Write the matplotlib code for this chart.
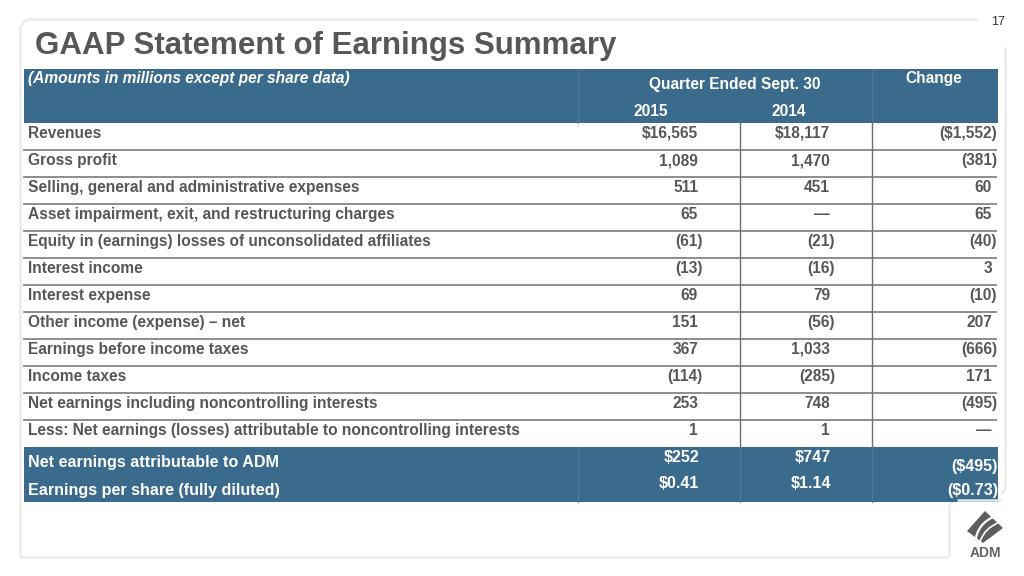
import matplotlib
matplotlib.use("Agg")
import matplotlib.pyplot as plt
from matplotlib.patches import Rectangle, Polygon, Arc, PathPatch
from matplotlib.path import Path

# table content
labels = ["Revenues", "Gross profit", "Selling, general and administrative expenses",
          "Asset impairment, exit, and restructuring charges",
          "Equity in (earnings) losses of unconsolidated affiliates",
          "Interest income", "Interest expense", "Other income (expense) \u2013 net",
          "Earnings before income taxes", "Income taxes",
          "Net earnings including noncontrolling interests",
          "Less: Net earnings (losses) attributable to noncontrolling interests"]
q2015 = ["$16,565", "1,089", "511", "65", "(61)", "(13)", "69", "151", "367", "(114)", "253", "1"]
q2014 = ["$18,117", "1,470", "451", "\u2014", "(21)", "(16)", "79", "(56)", "1,033", "(285)", "748", "1"]
change = ["($1,552)", "(381)", "60", "65", "(40)", "3", "(10)", "207", "(666)", "171", "(495)", "\u2014"]

tot_labels = ["Net earnings attributable to ADM", "Earnings per share (fully diluted)"]
tot2015 = ["$252", "$0.41"]
tot2014 = ["$747", "$1.14"]
totchg = ["($495)", "($0.73)"]

BLUE = "#3a6b8c"
DIV = "#4d7b99"
GRAY = "#575757"
LINE = "#858585"
FRAME = "#ebebeb"
FONT = ["Liberation Sans", "DejaVu Sans"]

fig = plt.figure(figsize=(10.24, 5.76), dpi=100)
ax = fig.add_axes([0, 0, 1, 1])
ax.set_xlim(0, 1024)
ax.set_ylim(576, 0)
ax.axis("off")

# frame around slide
fk = dict(color=FRAME, lw=1.8, solid_capstyle="butt")
r = 12
ax.plot([20 + r, 978], [19, 19], **fk)
ax.plot([20, 20], [19 + r, 557], **fk)
ax.plot([20, 949], [557, 557], **fk)
ax.plot([1005, 1005], [47, 490], **fk)
ax.plot([1005, 1005 - 4], [490, 494], **fk)
ax.plot([957, 1001], [500, 500], **fk)
ax.plot([949, 949], [508, 557], **fk)
ax.add_patch(Arc((20 + r, 19 + r), 2 * r, 2 * r, theta1=180, theta2=270, color=FRAME, lw=1.8))
ax.add_patch(Arc((957, 508), 16, 16, theta1=180, theta2=270, color=FRAME, lw=1.8))
ax.text(998, 22, "17", ha="center", va="center", fontsize=9, color="#333333", family=FONT)

# title
ax.text(35, 46, "GAAP Statement of Earnings Summary", ha="left", va="center",
        fontsize=22.5, fontweight="bold", color=GRAY, family=FONT)

x0, x1, x2, x3, x4 = 24, 578, 740, 872, 998

# header band
ax.add_patch(Rectangle((x0, 69), x4 - x0, 54, color=BLUE, lw=0))
for xv in (x1, x3):
    ax.plot([xv, xv], [69, 123], color=DIV, lw=0.8)
hk = dict(color="white", fontweight="bold", family=FONT, fontsize=11.2)
ax.text(28, 79, "(Amounts in millions except per share data)", ha="left", va="center",
        style="italic", **hk)
ax.text(735, 85, "Quarter Ended Sept. 30", ha="center", va="center", **hk)
ax.text(934, 79, "Change", ha="center", va="center", **hk)
ax.text(651, 112, "2015", ha="center", va="center", **hk)
ax.text(789, 112, "2014", ha="center", va="center", **hk)


def num(x, y, s, **kw):
    # closing parenthesis hangs past the column edge
    if s.endswith(")"):
        x += 5
    ax.text(x, y, s, ha="right", va="center", **kw)


# body rows
rh = 27
bk = dict(color=GRAY, fontweight="bold", family=FONT, fontsize=11.2)
for i, lab in enumerate(labels):
    top = 123 + i * rh
    yc = top + 10.5
    ax.text(28, yc, lab, ha="left", va="center", **bk)
    num(698, yc, q2015[i], **bk)
    num(830, yc, q2014[i], **bk)
    num(992, yc, change[i], **bk)
    if i < len(labels) - 1:
        ax.plot([x0, x4 - 2], [top + rh, top + rh], color=LINE, lw=1.3)
body_bot = 123 + len(labels) * rh
for xv in (x2, x3):
    ax.plot([xv, xv], [123, body_bot], color="#6e6e6e", lw=1)

# totals band
ax.add_patch(Rectangle((x0, body_bot), x4 - x0, 55, color=BLUE, lw=0))
for xv in (x1, x2, x3):
    ax.plot([xv, xv], [body_bot, body_bot + 55], color=DIV, lw=0.8)
tk = dict(color="white", fontweight="bold", family=FONT, fontsize=11.6)
for i, lab in enumerate(tot_labels):
    yl = body_bot + 16 + i * 27
    ax.text(28, yl, lab, ha="left", va="center", **tk)
    ax.text(699, yl - 6, tot2015[i], ha="right", va="center", **tk)
    ax.text(831, yl - 6, tot2014[i], ha="right", va="center", **tk)
    ax.text(998, yl + 3 - i * 3, totchg[i], ha="right", va="center", **tk)

# ADM logo
ax.add_patch(Polygon([(985, 511), (1003, 528), (983, 543), (967, 531)], closed=True,
                     color="#5e5e5e", lw=0))
for (a, c, b), w in [(((975, 542), (978, 522), (996, 516)), 1.6),
                     (((980, 542), (984, 528), (1000, 522)), 1.2)]:
    leaf = Path([a, c, b], [Path.MOVETO, Path.CURVE3, Path.CURVE3])
    ax.add_patch(PathPatch(leaf, fc="none", ec="white", lw=w))
ax.text(985, 553, "ADM", ha="center", va="center", fontsize=10, fontweight="bold",
        color="#666666", family=FONT)

fig.savefig("out.png", dpi=100)
